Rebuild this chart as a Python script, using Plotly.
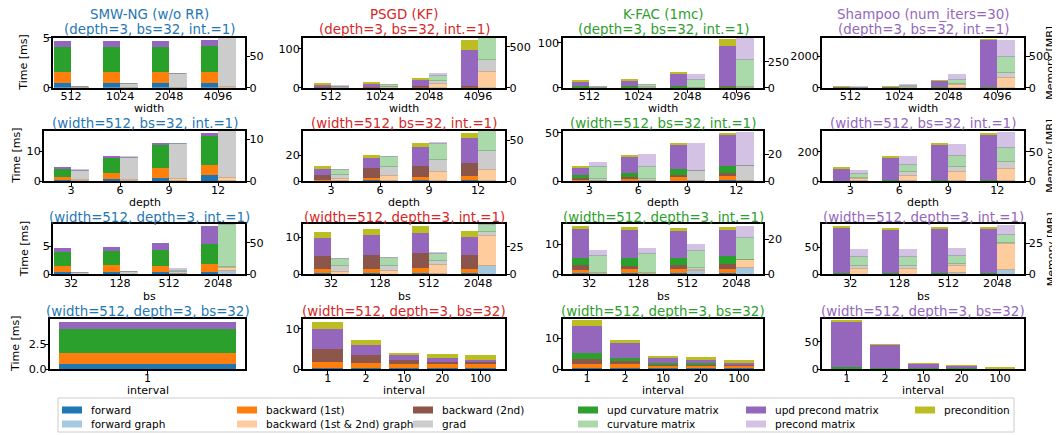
import plotly.graph_objects as go

W, H = 1060, 435          # browser window (target picture)
OFF = 8                   # default <body> margin of the written page
FIG_W, FIG_H = W - OFF, H - OFF
FONT = "DejaVu Sans"

# ---------------- labels / categories ----------------
TIME_LABELS = ["forward", "backward (1st)", "backward (2nd)",
               "upd curvature matrix", "upd precond matrix", "precondition"]
MEM_LABELS = ["forward graph", "backward (1st & 2nd) graph", "grad",
              "curvature matrix", "precond matrix"]

widths = ["512", "1024", "2048", "4096"]
depths = ["3", "6", "9", "12"]
batch_sizes = ["32", "128", "512", "2048"]
intervals_smw = ["1"]
intervals = ["1", "2", "10", "20", "100"]

# ---------------- data: time [ms] (rows = TIME_LABELS order) ----------------
# ---------------- data: memory [MB] (rows = MEM_LABELS order) ---------------
smw_width_time = [[0.5, 0.5, 0.5, 0.5], [1.1, 1.1, 1.1, 1.1], [0, 0, 0, 0],
                  [2.43, 2.43, 2.43, 2.57], [0.64, 0.64, 0.64, 0.63], [0, 0, 0, 0]]
smw_width_mem = [[0.1, 0.2, 0.3, 0.5], [0.2, 0.4, 0.8, 1.5], [2.3, 6.2, 21.5, 78.5],
                 [0, 0, 0, 0], [0, 0, 0, 0]]

psgd_width_time = [[0.2, 0.3, 0.5, 1.0], [0.4, 0.5, 0.8, 1.5], [1.4, 2.2, 2.5, 1.5],
                   [0, 0, 0, 0], [7.5, 9.0, 16.2, 92.0], [3.5, 3.5, 6.0, 27.0]]
psgd_width_mem = [[0.5, 0.5, 1, 2], [3, 10, 52, 193], [6, 9, 36, 155],
                  [10, 20, 66, 258], [4.5, 5.5, 16, 0]]

kfac_width_time = [[0.3, 0.3, 0.4, 0.6], [0.6, 0.7, 1.0, 1.5], [0.5, 0.5, 0.6, 0.8],
                   [1.5, 1.5, 1.5, 1.5], [11.9, 14.0, 26.5, 88.2], [2.2, 2.0, 5.0, 15.4]]
kfac_width_mem = [[0.2, 0.3, 0.5, 1], [0.5, 0.7, 1, 2], [3, 6, 4, 13],
                  [4, 19, 68.5, 250], [8.3, 9, 48, 202]]

sham_width_time = [[1, 1, 2, 5], [2, 2, 4, 10], [0, 0, 0, 0],
                   [5, 5, 10, 35], [57, 90, 468, 3000], [40, 28, 21, 45]]
sham_width_mem = [[0.2, 0.5, 1, 2], [3, 10, 46, 156], [2, 6, 21, 79],
                  [3, 20.5, 69, 252], [3, 21, 68, 263]]

smw_depth_time = [[0.44, 0.78, 1.11, 2.1], [1.0, 2.0, 3.33, 3.34], [0, 0, 0, 0],
                  [2.56, 4.78, 7.46, 9.56], [0.67, 0.77, 0.9, 1.0], [0, 0, 0, 0]]
smw_depth_mem = [[0.05, 0.1, 0.15, 0.2], [0.2, 0.3, 0.5, 0.7], [2.39, 5.36, 8.39, 11.2],
                 [0, 0, 0, 0], [0.05, 0.2, 0.05, 0]]

psgd_depth_time = [[0.3, 0.4, 0.5, 0.8], [0.47, 1.9, 2.8, 3.0], [3.59, 7.7, 8.2, 10.3],
                   [0, 0, 0, 0], [5.64, 7.7, 14.7, 18.9], [1.5, 2.3, 3.0, 3.7]]
psgd_depth_mem = [[0.1, 0.2, 0.3, 0.4], [3.15, 6.7, 10.7, 13.8], [4.85, 10.6, 15.4, 22.8],
                  [6.1, 12.2, 19.6, 24.4], [0.4, 0.8, 0.7, 0]]

kfac_depth_time = [[0.3, 0.4, 0.5, 0.6], [1.4, 2.4, 3.3, 4.9], [1.1, 1.7, 2.8, 2.4],
                   [3.1, 3.8, 5.5, 8.0], [8.2, 16.5, 25.5, 32.0], [1.4, 2.1, 2.1, 2.1]]
kfac_depth_mem = [[0.1, 0.1, 0.2, 0.2], [0.2, 0.2, 0.3, 0.3], [1.2, 1.2, 7.5, 11.2],
                  [9.25, 9.75, 0.25, 0.25], [3.0, 8.5, 19.75, 24.3]]

sham_depth_time = [[0.5, 0.7, 1.0, 1.2], [0.8, 1.2, 2.0, 2.5], [0, 0, 0, 0],
                   [1.5, 2.5, 6.0, 5.3], [83.2, 159.6, 241, 311], [7, 6, 7, 7]]
sham_depth_mem = [[0.1, 0.2, 0.3, 0.4], [4.4, 9.5, 15.7, 21.6], [1.2, 6.3, 8.4, 11.0],
                  [7.3, 12.4, 18.6, 24.4], [5.75, 12.6, 19.5, 24.6]]

smw_bs_time = [[0.47, 0.47, 0.47, 0.47], [1.0, 1.18, 0.93, 1.43], [0, 0, 0, 0],
               [2.47, 2.45, 2.95, 3.5], [0.76, 0.8, 1.25, 3.2], [0, 0, 0, 0]]
smw_bs_mem = [[0.05, 0.1, 1.5, 6.8], [0.1, 0.1, 0.3, 4.5], [2.45, 4.0, 2.4, 1.0],
              [0, 0, 2.6, 67.2], [0, 0, 2.7, 0]]

psgd_bs_time = [[0.36, 0.36, 0.36, 0.36], [0.99, 0.99, 1.24, 1.08], [3.65, 3.85, 4.2, 3.76],
                [0, 0, 0, 0], [4.9, 5.4, 5.4, 5.0], [1.5, 1.65, 1.9, 1.5]]
psgd_bs_mem = [[0.1, 0.2, 0.5, 8.5], [2.9, 3.15, 8.5, 26.9], [4.9, 5.15, 3.9, 3.9],
               [6.1, 7.0, 6.1, 6.7], [0.6, 0.2, 0.6, 0]]

kfac_bs_time = [[0.3, 0.3, 0.3, 0.3], [1.14, 1.5, 1.37, 1.5], [1.56, 1.0, 1.33, 1.6],
                [2.44, 2.64, 2.44, 2.7], [9.56, 9.36, 8.96, 8.7], [1.1, 1.0, 1.0, 1.0]]
kfac_bs_mem = [[0.1, 0.1, 2.1, 4.0], [0.2, 0.2, 0.8, 4.2], [1.0, 1.0, 1.1, 0.4],
               [9.6, 10.7, 9.7, 12.5], [3.0, 3.0, 3.1, 6.5]]

sham_bs_time = [[0.5, 0.5, 0.5, 0.5], [0.8, 0.8, 0.8, 0.8], [0, 0, 0, 0],
                [1.7, 1.7, 1.7, 1.7], [84, 80, 82, 82], [2.5, 2, 2, 2]]
sham_bs_mem = [[0.1, 0.1, 1.3, 3.5], [4.7, 4.7, 6.2, 21.5], [2.2, 2.2, 1.4, 0.5],
               [7, 7, 6.1, 7], [6.4, 6.4, 6, 6.5]]

smw_int_time = [[0.5], [1.1], [0], [2.43], [0.64], [0]]
psgd_int_time = [[0.36] * 5, [1.3, 1.1, 1.0, 1.0, 1.0], [3.3, 1.9, 0.8, 0.5, 0.3],
                 [0] * 5, [5.0, 2.5, 1.2, 0.8, 0.5], [1.7, 1.4, 0.7, 1.0, 1.2]]
kfac_int_time = [[0.3] * 5, [1.4, 1.2, 1.0, 1.0, 1.0], [1.6, 1.1, 0.3, 0.2, 0.1],
                 [2.0, 0.9, 0.4, 0.3, 0.2], [8.7, 5.0, 1.5, 1.1, 0.6], [1.9, 0.9, 0.9, 0.9, 0.6]]
sham_int_time = [[0.5, 0.5, 0.5, 0.5, 0.3], [0.8, 0.8, 0.5, 0.5, 0.3], [0] * 5,
                 [1.7, 0.9, 0.3, 0.2, 0.1], [84, 42, 8, 4.5, 1.0], [2.5, 1.5, 1.0, 0.8, 0.5]]

# ---------------- styling ----------------
TIME_COLORS = ["#1f77b4", "#ff7f0e", "#8c564b", "#2ca02c", "#9467bd", "#bcbd22"]
MEM_COLORS = ["#1f77b4", "#ff7f0e", "#7f7f7f", "#2ca02c", "#9467bd"]
MEM_ALPHA = 0.4
METHODS = [("SMW-NG (w/o RR)", "#1f77b4"), ("PSGD (KF)", "#d62728"),
           ("K-FAC (1mc)", "#2ca02c"), ("Shampoo (num_iters=30)", "#9467bd")]
ROW_SUB = ["(depth=3, bs=32, int.=1)", "(width=512, bs=32, int.=1)",
           "(width=512, depth=3, int.=1)", "(width=512, depth=3, bs=32)"]
ROW_XLABEL = ["width", "depth", "bs", "interval"]

PANELS = [
    [(widths, smw_width_time, smw_width_mem), (widths, psgd_width_time, psgd_width_mem),
     (widths, kfac_width_time, kfac_width_mem), (widths, sham_width_time, sham_width_mem)],
    [(depths, smw_depth_time, smw_depth_mem), (depths, psgd_depth_time, psgd_depth_mem),
     (depths, kfac_depth_time, kfac_depth_mem), (depths, sham_depth_time, sham_depth_mem)],
    [(batch_sizes, smw_bs_time, smw_bs_mem), (batch_sizes, psgd_bs_time, psgd_bs_mem),
     (batch_sizes, kfac_bs_time, kfac_bs_mem), (batch_sizes, sham_bs_time, sham_bs_mem)],
    [(intervals_smw, smw_int_time, None), (intervals, psgd_int_time, None),
     (intervals, kfac_int_time, None), (intervals, sham_int_time, None)],
]

# geometry in window pixels
COL_X = [(53.3, 245), (303.3, 505), (562.7, 763.3), (822.3, 1024.3)]
COL0_LEFT = [53.3, 44.3, 53.3, 50]
ROW_Y = [(37.7, 87.7), (130.7, 181), (224, 274.3), (319, 369)]
XLABEL_Y = [108, 202, 296, 390]
SUBTITLE_Y = [29, 123, 217, 311]
YLABEL_X = [24, 17, 24, 15]
PX_PER_CAT = 49.0

TIME_TOP = [[5.0, 129, 111, 3158], [16.8, 38.7, 52, 343], [8.9, 13.6, 16.8, 93], [5.0, 12.4, 16.3, 92]]
TIME_TICKS = [[[0, 5], [0, 100], [0, 100], [0, 2000]],
              [[0, 10], [0, 20], [0, 50], [0, 200]],
              [[0, 5], [0, 10], [0, 10], [0, 50]],
              [[0, 2.5], [0, 10], [0, 10], [0, 50]]]
MEM_TOP = [[79, 610, 480, 789], [12.1, 61.4, 37.75, 85.8], [79.5, 46, 28.8, 40.6]]
MEM_TICKS = [[[0, 50], [0, 500], [0, 250], [0, 500]],
             [[0, 10], [0, 50], [0, 20], [0, 50]],
             [[0, 50], [0, 25], [0, 20], [0, 25]]]

TICK_FS = 11.2
LABEL_FS = 11
TITLE_FS = 13.4
LEG_FS = 10.5
LW = 1.5
BAR_W = 0.35


def xp(px):
    return (px - OFF) / FIG_W


def yp(py):
    return 1 - (py - OFF) / FIG_H


fig = go.Figure()
layout_axes = {}
annotations = []
shapes = []

axis_common = dict(showline=True, linecolor="black", linewidth=LW, ticks="outside",
                   ticklen=3.5, tickwidth=1, tickcolor="black", showgrid=False,
                   zeroline=False, fixedrange=True,
                   tickfont=dict(family=FONT, size=TICK_FS, color="black"))

for r in range(4):
    for c in range(4):
        p = r * 4 + c
        cats, tdata, mdata = PANELS[r][c]
        xid = p + 1
        xname = "x" if xid == 1 else f"x{xid}"
        tname = "y" if xid == 1 else f"y{xid}"
        mname = f"y{p + 17}"
        x0, x1 = COL_X[c]
        if c == 0:
            x0 = COL0_LEFT[r]
        y0, y1 = ROW_Y[r]
        n = len(cats)
        idx = list(range(n))
        if mdata is not None:
            tx = [i - BAR_W / 2 for i in idx]
            mx = [i + BAR_W / 2 for i in idx]
            bw = BAR_W
            right = n - 1 + 0.55
            xr = [right - (x1 - x0) / PX_PER_CAT, right]
        else:
            tx = idx
            bw = 0.8
            xr = [-0.44, 0.44] if n == 1 else [-0.64, n - 1 + 0.64]

        for k, vals in enumerate(tdata):
            fig.add_trace(go.Bar(x=tx, y=vals, width=bw, name=TIME_LABELS[k],
                                 marker=dict(color=TIME_COLORS[k], line=dict(width=0)),
                                 xaxis=xname, yaxis=tname, showlegend=False))
        if mdata is not None:
            for k, vals in enumerate(mdata):
                fig.add_trace(go.Bar(x=mx, y=vals, width=bw, name=MEM_LABELS[k],
                                     opacity=MEM_ALPHA,
                                     marker=dict(color=MEM_COLORS[k],
                                                 line=dict(width=1, color=MEM_COLORS[k])),
                                     xaxis=xname, yaxis=mname, showlegend=False))

        xkey = "xaxis" if xid == 1 else f"xaxis{xid}"
        ykey = "yaxis" if xid == 1 else f"yaxis{xid}"
        layout_axes[xkey] = dict(axis_common, domain=[xp(x0), xp(x1)], anchor=tname,
                                 range=xr, tickvals=idx, ticktext=cats, mirror=True,
                                 ticklabelstandoff=-6)
        tt = TIME_TICKS[r][c]
        ttext = [f"{v:.1f}" for v in tt] if r == 3 and c == 0 else [f"{v:g}" for v in tt]
        layout_axes[ykey] = dict(axis_common, domain=[yp(y1), yp(y0)], anchor=xname,
                                 range=[0, TIME_TOP[r][c]], tickvals=tt, ticktext=ttext,
                                 mirror=(mdata is None), ticklabelstandoff=-4)
        if mdata is not None:
            layout_axes[f"yaxis{p + 17}"] = dict(axis_common, overlaying=tname, side="right",
                                               anchor=xname, range=[0, MEM_TOP[r][c]],
                                               tickvals=MEM_TICKS[r][c], ticklabelstandoff=-3)

        cx = (x0 + x1) / 2
        col = METHODS[c][1]
        tfont = dict(family=FONT, size=TITLE_FS, color=col)
        if r == 0:
            annotations.append(dict(x=xp(cx), y=yp(14), text=METHODS[c][0], font=tfont))
        annotations.append(dict(x=xp(cx), y=yp(SUBTITLE_Y[r]), text=ROW_SUB[r], font=tfont))
        annotations.append(dict(x=xp(cx), y=yp(XLABEL_Y[r]), text=ROW_XLABEL[r],
                                font=dict(family=FONT, size=LABEL_FS, color="black")))
        if c == 0:
            annotations.append(dict(x=xp(YLABEL_X[r]), y=yp((y0 + y1) / 2), text="Time [ms]",
                                    textangle=-90,
                                    font=dict(family=FONT, size=LABEL_FS, color="black")))
        if c == 3 and mdata is not None:
            annotations.append(dict(x=xp(1051), y=yp((y0 + y1) / 2), text="Memory [MB]",
                                    textangle=-90,
                                    font=dict(family=FONT, size=LABEL_FS, color="black")))

# ---------------- legend (drawn manually, matplotlib style) ----------------
LEG_COL_X = [62, 237, 413, 578, 746, 915]
LEG_ROW_Y = [410, 424]
shapes.append(dict(type="rect", xref="paper", yref="paper", x0=xp(58), x1=xp(1014),
                   y0=yp(432), y1=yp(398), line=dict(color="#cccccc", width=1),
                   fillcolor="white", layer="below"))


def legend_entry(col, row, label, color, alpha):
    sx = LEG_COL_X[col]
    sy = LEG_ROW_Y[row]
    shapes.append(dict(type="rect", xref="paper", yref="paper", x0=xp(sx), x1=xp(sx + 20),
                       y0=yp(sy + 3.5), y1=yp(sy - 3.5), fillcolor=color, opacity=alpha,
                       line=dict(width=0)))
    annotations.append(dict(x=xp(sx + 27), y=yp(sy), text=label, xanchor="left",
                            font=dict(family=FONT, size=LEG_FS, color="black")))


for k, lab in enumerate(TIME_LABELS):
    legend_entry(k, 0, lab, TIME_COLORS[k], 1.0)
for k, lab in enumerate(MEM_LABELS):
    legend_entry(k, 1, lab, MEM_COLORS[k], MEM_ALPHA)

for a in annotations:
    a.setdefault("xref", "paper")
    a.setdefault("yref", "paper")
    a.setdefault("showarrow", False)
    a.setdefault("xanchor", "center")
    a.setdefault("yanchor", "middle")

fig.update_layout(width=FIG_W, height=FIG_H, margin=dict(l=0, r=0, t=0, b=0, autoexpand=False),
                  plot_bgcolor="white", paper_bgcolor="white", barmode="stack",
                  showlegend=False, annotations=annotations, shapes=shapes,
                  font=dict(family=FONT, size=TICK_FS, color="black"), **layout_axes)

fig.write_html("out.html")
